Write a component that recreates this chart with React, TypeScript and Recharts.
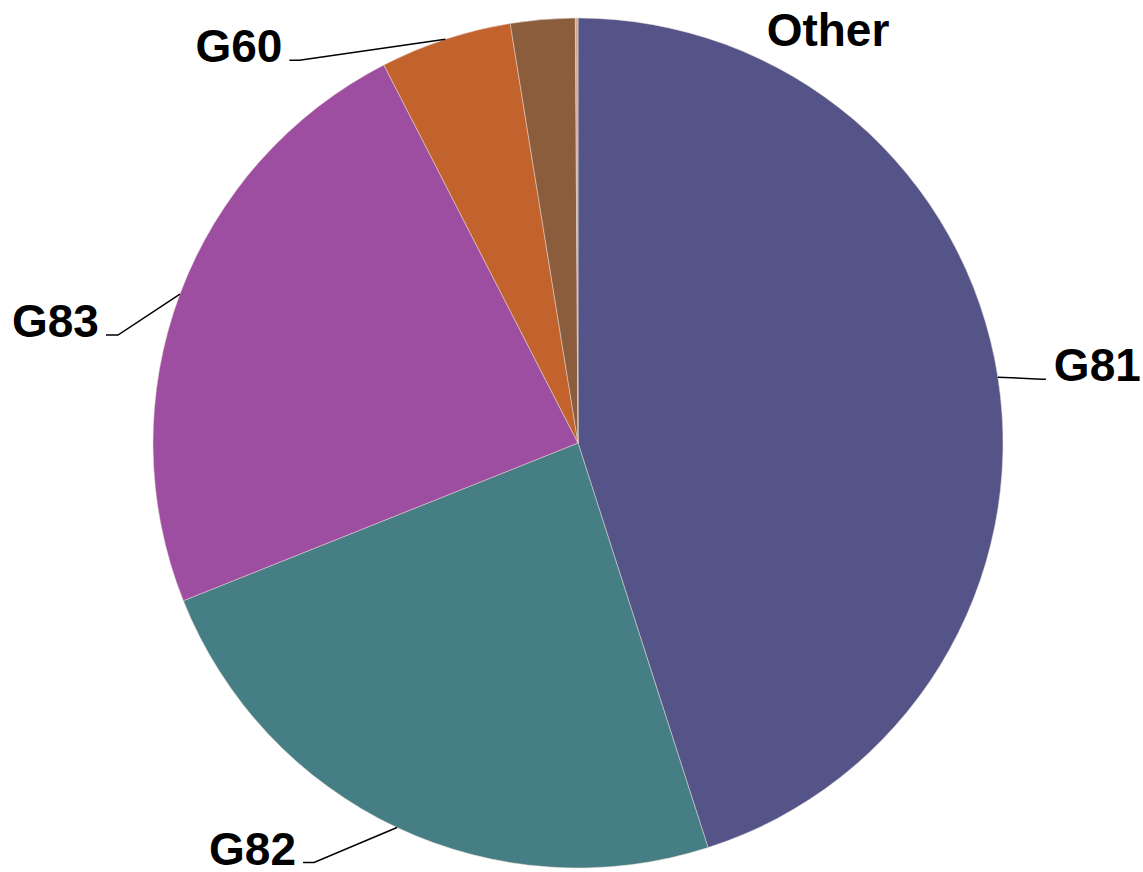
import { PieChart, Pie, Cell } from 'recharts';

// slice names, shares (%) and colours, clockwise from 12 o'clock
const names = ['G81', 'G82', 'G83', 'G60', '', 'Other'];
const shares = [45.05, 23.9, 23.5, 5.0, 2.45, 0.1];
const colors = ['#545489', '#457E84', '#9E4EA0', '#C2632D', '#8B5D3C', '#D4A88E'];

const data = names.map((name, i) => ({ name, value: shares[i] }));

// label leader layout: elbow offset from slice edge, then short horizontal tail
const labelLayout: Record<string, { dx: number; dy: number; tail: number; line: boolean }> = {
  G81: { dx: 44, dy: 2, tail: 4, line: true },
  G82: { dx: -83, dy: 35, tail: -11, line: true },
  G83: { dx: -62, dy: 41, tail: -12, line: true },
  G60: { dx: -146, dy: 21, tail: -10, line: true },
  Other: { dx: 190, dy: 28, tail: 0, line: false },
};

const RAD = Math.PI / 180;

const renderLabel = (props: any) => {
  const { cx, cy, midAngle, outerRadius, name } = props;
  const cfg = labelLayout[name];
  if (!cfg) return null;
  const ex = cx + outerRadius * Math.cos(-midAngle * RAD);
  const ey = cy + outerRadius * Math.sin(-midAngle * RAD);
  const mx = ex + cfg.dx;
  const my = ey + cfg.dy;
  const tx = mx + cfg.tail;
  const right = cfg.dx >= 0;
  return (
    <g key={name}>
      {cfg.line && (
        <polyline
          points={`${ex},${ey} ${mx},${my} ${tx},${my}`}
          fill="none"
          stroke="#000"
          strokeWidth={1.5}
        />
      )}
      <text
        x={cfg.line ? tx + (right ? 8 : -7) : mx}
        y={cfg.line ? my + 2 : my}
        textAnchor={right ? 'start' : 'end'}
        fill="#000"
        fontFamily="'Liberation Sans', Arial, sans-serif"
        fontWeight="bold"
        fontSize={46}
      >
        {name}
      </text>
    </g>
  );
};

export default function App() {
  return (
    <div style={{ position: 'absolute', left: 0, top: 0, width: 1143, height: 872, background: '#fff' }}>
      <PieChart width={1143} height={872}>
        <Pie
          data={data}
          dataKey="value"
          nameKey="name"
          cx={573}
          cy={438}
          outerRadius={425}
          startAngle={90}
          endAngle={-270}
          stroke="#E8D8D0"
          strokeWidth={0.5}
          label={renderLabel}
          labelLine={false}
          isAnimationActive={false}
        >
          {data.map((d, i) => (
            <Cell key={i} fill={colors[i]} />
          ))}
        </Pie>
      </PieChart>
    </div>
  );
}
